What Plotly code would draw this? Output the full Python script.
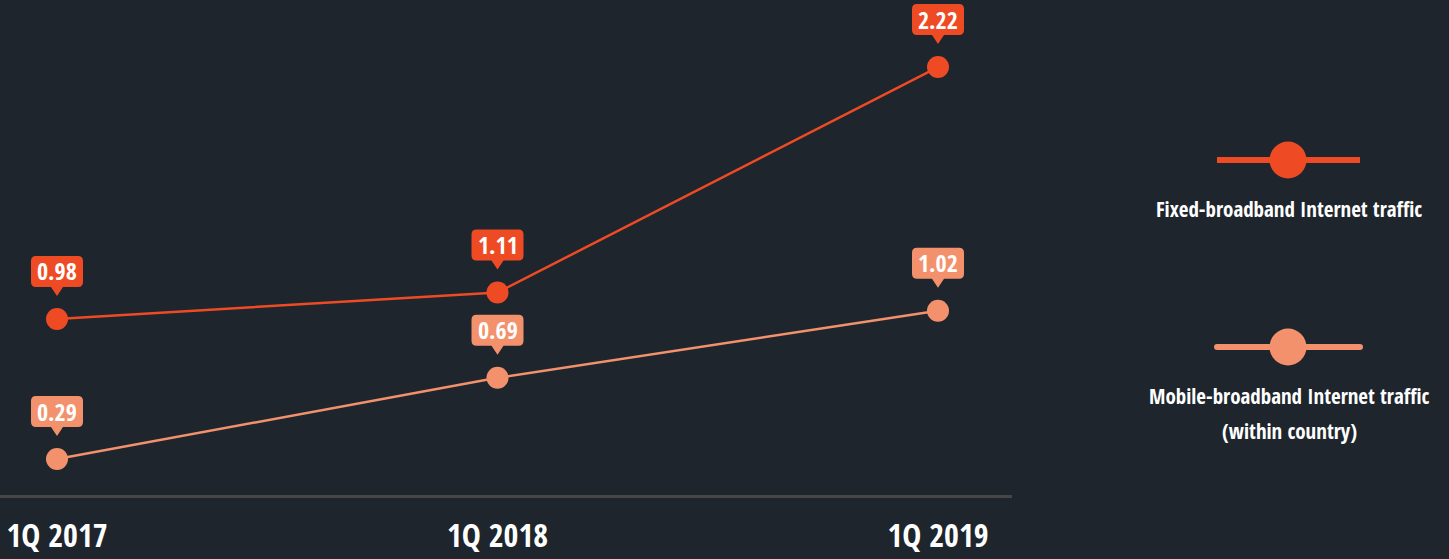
import plotly.graph_objects as go

# ---- data ----
categories = ["1Q 2017", "1Q 2018", "1Q 2019"]
fixed_values = [0.98, 1.11, 2.22]
mobile_values = [0.29, 0.69, 1.02]
series_names = ["Fixed-broadband Internet traffic", "Mobile-broadband Internet traffic<br>(within country)"]

FIXED = "#EE4B24"
MOBILE = "#F3916C"
BG = "#1E252C"
FONT = "Open Sans Condensed, Roboto Condensed, sans-serif"

W, H = 1449, 559
PLOT_W, PLOT_H = 1012, 495
xs = list(range(len(categories)))

fig = go.Figure()
for vals, col, name in [(mobile_values, MOBILE, series_names[1]), (fixed_values, FIXED, series_names[0])]:
    fig.add_trace(go.Scatter(
        x=xs, y=vals, mode="lines+markers", name=name, showlegend=False,
        line=dict(color=col, width=2.5),
        marker=dict(color=col, size=22),
        hoverinfo="skip",
    ))

# callout boxes anchored at data points (pixel offsets)
box_path = ("M -21,32 L -6,32 L 0,23 L 6,32 L 21,32 Q 26,32 26,37 L 26,58 Q 26,63 21,63 "
            "L -21,63 Q -26,63 -26,58 L -26,37 Q -26,32 -21,32 Z")
shapes = []
annotations = []
for vals, col in [(fixed_values, FIXED), (mobile_values, MOBILE)]:
    for xi, v in zip(xs, vals):
        shapes.append(dict(type="path", xref="x", yref="y", xsizemode="pixel", ysizemode="pixel",
                           xanchor=xi, yanchor=v, path=box_path, fillcolor=col,
                           line=dict(width=0), layer="above"))
        annotations.append(dict(x=xi, y=v, xref="x", yref="y", text=f"{v:.2f}", showarrow=False,
                                xanchor="center", yanchor="middle", yshift=48,
                                font=dict(family=FONT, size=24, color="white", weight="bold")))

# custom legend in right margin
def px(xp):
    return xp / PLOT_W
def py(yp):
    return (PLOT_H - yp) / PLOT_H

legend_items = [(FIXED, 160, [209], False), (MOBILE, 347, [396, 431], True)]
for (col, ly, tys, rounded), name in zip(legend_items, series_names):
    shapes.append(dict(type="line", xref="paper", yref="paper", x0=px(1217), x1=px(1360),
                       y0=py(ly), y1=py(ly), line=dict(color=col, width=6)))
    if rounded:
        for ex in (1217, 1360):
            shapes.append(dict(type="circle", xref="paper", yref="paper", xsizemode="pixel", ysizemode="pixel",
                               xanchor=px(ex), yanchor=py(ly), x0=-3, x1=3, y0=-3, y1=3,
                               fillcolor=col, line=dict(width=0)))
    shapes.append(dict(type="circle", xref="paper", yref="paper", xsizemode="pixel", ysizemode="pixel",
                       xanchor=px(1288), yanchor=py(ly), x0=-18.5, x1=18.5, y0=-18.5, y1=18.5,
                       fillcolor=col, line=dict(width=0)))
    for ty, part in zip(tys, name.split("<br>")):
        annotations.append(dict(x=px(1289), y=py(ty), xref="paper", yref="paper", text=part, showarrow=False,
                                xanchor="center", yanchor="middle", align="center",
                                font=dict(family=FONT, size=21, color="white", weight="bold")))

fig.update_layout(
    width=W, height=H,
    paper_bgcolor=BG, plot_bgcolor=BG,
    margin=dict(l=0, r=W - PLOT_W, t=0, b=H - PLOT_H),
    shapes=shapes, annotations=annotations,
    xaxis=dict(range=[-57 / 440.5, 2 + 74 / 440.5], tickvals=xs, ticktext=categories,
               showgrid=False, zeroline=False, showline=True, linecolor="#464646", linewidth=3,
               ticks="", ticklabeloverflow="allow", ticklabelstandoff=11,
               tickfont=dict(family=FONT, size=32, color="white", weight="bold"),
               fixedrange=True),
    yaxis=dict(range=[0.113, 0.113 + PLOT_H / 203.1], visible=False, showgrid=False, zeroline=False,
               fixedrange=True),
)

fig.write_html("out.html", config={"displayModeBar": False},
               post_script="document.body.style.margin='0';")
